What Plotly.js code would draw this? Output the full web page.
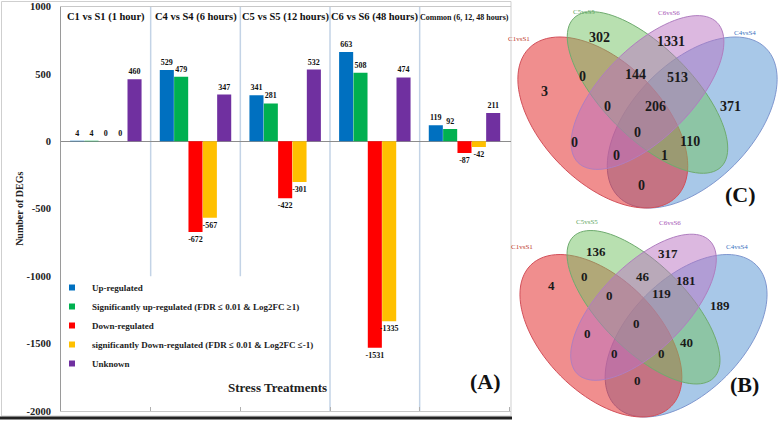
<!DOCTYPE html>
<html><head><meta charset="utf-8">
<script src="https://cdn.plot.ly/plotly-3.0.1.min.js"></script>
<style>html,body{margin:0;padding:0;background:#fff;}#chart{width:778px;height:421px;}</style>
</head><body><div id="chart"></div>
<script>
// ---------- data: bar chart (A) ----------
const groups = ["C1 vs S1 (1 hour)", "C4 vs S4 (6 hours)", "C5 vs S5 (12 hours)", "C6 vs S6 (48 hours)", "Common (6, 12, 48 hours)"];
const upRegulated   = [4, 529, 341, 663, 119];
const sigUp         = [4, 479, 281, 508, 92];
const downRegulated = [0, -672, -422, -1531, -87];
const sigDown       = [0, -567, -301, -1335, -42];
const unknown       = [460, 347, 532, 474, 211];
const seriesNames = ["Up-regulated",
  "Significantly up-regulated (FDR \u2264 0.01 & Log2FC \u22651)",
  "Down-regulated",
  "significantly Down-regulated (FDR \u2264 0.01 & Log2FC \u2264-1)",
  "Unknown"];
const yTicks = [1000, 500, 0, -500, -1000, -1500, -2000];

// ---------- data: Venn diagrams ----------
const vennSets = ["C1vsS1", "C5vsS5", "C6vsS6", "C4vsS4"];
const vennC = [3, 302, 1331, 371, 0, 144, 513, 0, 206, 0, 0, 110, 0, 1, 0];
const vennB = [4, 136, 317, 189, 0, 46, 181, 0, 119, 0, 0, 40, 0, 0, 0];

// ---------- layout helpers ----------
const W = 778, H = 421;
const px = x => x / W, py = y => 1 - y / H;
const FONT = "Liberation Serif, Times New Roman, serif";
const seriesColors = ["#0070C0", "#00B050", "#FF0000", "#FFC000", "#7030A0"];
const seriesData = [upRegulated, sigUp, downRegulated, sigDown, unknown];

const traces = [];
seriesData.forEach((vals, i) => {
  traces.push({
    type: "bar", x: groups, y: vals, name: seriesNames[i],
    showlegend: false, marker: {color: seriesColors[i]},
    text: vals.map(String), texttemplate: "%{text}", textposition: "outside", constraintext: "none", cliponaxis: false,
    textangle: 0,
    textfont: {family: FONT, size: 8, color: "#111", weight: "bold"},
    hoverinfo: "skip"
  });
});
seriesNames.forEach((n, i) => {
  traces.push({
    type: "scatter", mode: "markers", x: [null], y: [null], name: n,
    marker: {symbol: "square", size: 6, color: seriesColors[i]}, hoverinfo: "skip"
  });
});

// Venn geometry (unit ellipses, standard 4-set layout)
const ellipses = [ // cx, cy, a, b, rotation
  {c: [0.65, 0.47, 0.35, 0.20, 45], fill: "rgba(81,145,209,0.5)", line: "#7f97cf"},   // C4 blue
  {c: [0.35, 0.47, 0.35, 0.20, 135], fill: "rgba(225,30,30,0.5)", line: "#d2505a"},  // C1 red
  {c: [0.50, 0.57, 0.35, 0.15, 135], fill: "rgba(113,193,97,0.5)", line: "#6fab6f"}, // C5 green
  {c: [0.50, 0.57, 0.33, 0.15, 45], fill: "rgba(185,113,193,0.5)", line: "#b07ec0"}  // C6 purple
];
const tfC = {x0: 647.5, y0: 113.5, sx: 298, sy: 300};
const tfB = {x0: 643.5, y0: 327.2, sx: 284, sy: 285};
function ellipsePath(e, tf) {
  const [cx, cy, a, b, rot] = e;
  const th = rot * Math.PI / 180;
  let d = "";
  for (let i = 0; i <= 96; i++) {
    const t = i / 96 * 2 * Math.PI;
    const u = cx + a * Math.cos(t) * Math.cos(th) - b * Math.sin(t) * Math.sin(th);
    const v = cy + a * Math.cos(t) * Math.sin(th) + b * Math.sin(t) * Math.cos(th);
    const X = tf.x0 + (u - 0.5) * tf.sx, Y = tf.y0 - (v - 0.5) * tf.sy;
    d += (i === 0 ? "M" : "L") + px(X).toFixed(5) + "," + py(Y).toFixed(5);
  }
  return d + "Z";
}
const posC = [[550,81.7],[611.7,28.3],[686.7,31.7],[743.3,96.7],[588.3,66.7],[648.3,65],[690,68.3],[613.3,96.7],[668.3,96.7],[643.3,123.3],[580,133.3],[701.7,141.7],[621.7,155],[670,155],[646.7,185]];
const posB = [[556.7,295],[608.3,251.7],[680,253.3],[731.7,315],[590,276.7],[651.7,276.7],[698.3,280],[615,305],[673.3,303.3],[641.7,333.3],[593.3,343.3],[695,351.7],[620,363.3],[666.7,363.3],[643.3,390]];
const setPosC = [[531.7,33.3],[596.7,5.5],[681.7,6.7],[758.3,26.7]];
const setPosB = [[535,246.7],[600,221.7],[683.3,223.3],[750,246.7]];
const setColors = ["#c0392b", "#5fa85f", "#a656b6", "#3b72c0"];

const shapes = [];
// separators between groups
[0.5, 1.5, 2.5, 3.5].forEach((x, i) => {
  shapes.push({type: "line", xref: "x", yref: "y", x0: x, x1: x, y0: i < 2 ? -1000 : -2000, y1: 1000,
    line: {color: "#c3d3e6", width: 1.5}, layer: "below"});
});
// left panel frame
shapes.push({type: "rect", xref: "paper", yref: "paper", x0: px(1.5), x1: px(511), y0: py(1.5), y1: py(416),
  line: {color: "#cfcfcf", width: 1}, layer: "below"});
shapes.push({type: "line", xref: "paper", yref: "paper", x0: 0, x1: px(512), y0: py(418), y1: py(418),
  line: {color: "#222", width: 3}});
// Venn ellipses
[tfC, tfB].forEach(tf => {
  ellipses.forEach(e => {
    shapes.push({type: "path", xref: "paper", yref: "paper", path: ellipsePath(e.c, tf),
      fillcolor: e.fill, line: {color: e.line, width: 1}});
  });
});

const annotations = [];
groups.forEach((g, i) => {
  annotations.push({x: g, xref: "x", y: py(17), yref: "paper", text: "<b>" + g + "</b>", showarrow: false,
    font: {family: FONT, size: i === 4 ? 8 : 10.5, color: "#111"}, yanchor: "middle"});
});
annotations.push({x: px(277), y: py(397), xref: "paper", yref: "paper", text: "<b>Stress Treatments</b>",
  showarrow: false, font: {family: FONT, size: 13, color: "#222"}});
annotations.push({x: px(485), y: py(396), xref: "paper", yref: "paper", text: "<b>(A)</b>",
  showarrow: false, font: {family: FONT, size: 22, color: "#111"}});
annotations.push({x: px(758), y: py(194), xref: "paper", yref: "paper", text: "<b>(C)</b>",
  showarrow: false, font: {family: FONT, size: 22, color: "#111"}});
annotations.push({x: px(761), y: py(399), xref: "paper", yref: "paper", text: "<b>(B)</b>",
  showarrow: false, font: {family: FONT, size: 22, color: "#111"}});
[[vennC, posC, setPosC, 14], [vennB, posB, setPosB, 13]].forEach(([vals, pos, spos, fs]) => {
  vals.forEach((v, i) => {
    annotations.push({x: px(pos[i][0]), y: py(pos[i][1]), xref: "paper", yref: "paper", text: "<b>" + v + "</b>",
      showarrow: false, font: {family: FONT, size: fs, color: "#1a1a1a"}});
  });
  vennSets.forEach((s, i) => {
    annotations.push({x: px(spos[i][0]), y: py(spos[i][1]), xref: "paper", yref: "paper", text: s,
      showarrow: false, font: {family: FONT, size: 7, color: setColors[i]}});
  });
});

const layout = {
  width: W, height: H, margin: {l: 0, r: 0, t: 0, b: 0},
  paper_bgcolor: "#fff", plot_bgcolor: "rgba(0,0,0,0)",
  barmode: "group", bargap: 0.2, bargroupgap: 0.02,
  font: {family: FONT, color: "#111"},
  xaxis: {domain: [px(61), px(511)], type: "category", showticklabels: false,
    showline: true, linecolor: "#c8c8c8", mirror: true, ticks: "inside", tickson: "boundaries",
    ticklen: 4, tickcolor: "#b0b0b0", showgrid: false, fixedrange: true},
  yaxis: {domain: [py(411), py(6.5)], range: [-2000, 1000], tickvals: yTicks,
    ticktext: yTicks.map(String), showgrid: false, zeroline: true, zerolinecolor: "#8c8c8c", zerolinewidth: 1,
    showline: true, linecolor: "#9a9a9a", ticks: "", ticklabelstandoff: 7,
    tickfont: {family: FONT, size: 10.5, color: "#222", weight: "bold"},
    title: {text: "Number of DEGs", standoff: 0, font: {family: FONT, size: 10, color: "#222", weight: "bold"}},
    fixedrange: true},
  legend: {x: px(52), xanchor: "left", y: py(273), yanchor: "top", bgcolor: "rgba(0,0,0,0)",
    tracegroupgap: 0, itemwidth: 30,
    font: {family: FONT, size: 9, color: "#222", weight: "bold"}, itemclick: false, itemdoubleclick: false},
  showlegend: true,
  shapes: shapes, annotations: annotations
};
Plotly.newPlot("chart", traces, layout, {displayModeBar: false, staticPlot: true});
</script></body></html>
